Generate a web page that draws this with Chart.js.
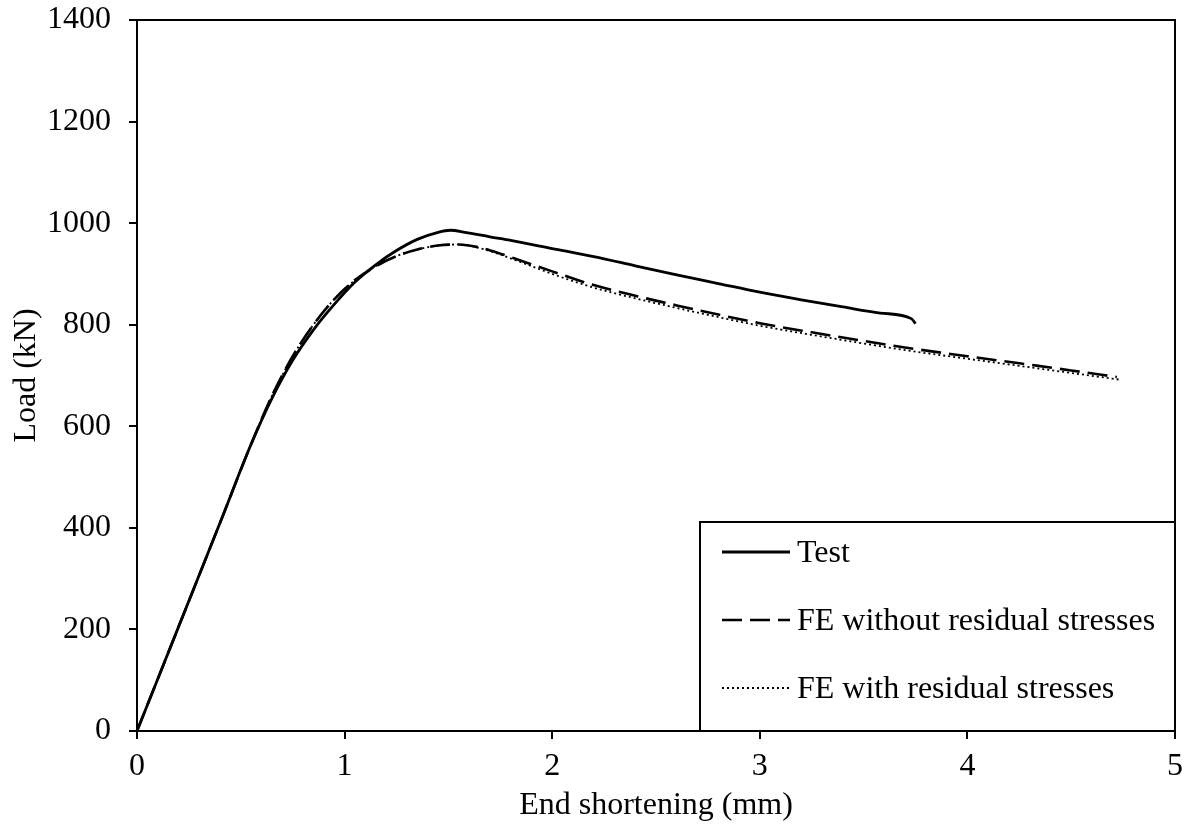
<!DOCTYPE html>
<html>
<head>
<meta charset="utf-8">
<script src="https://cdn.jsdelivr.net/npm/chart.js@4/dist/chart.umd.min.js"></script>
<style>
  html, body { margin: 0; padding: 0; background: #fff; }
  #c { display: block; }
</style>
</head>
<body>
<canvas id="c" width="1192" height="832"></canvas>
<script>
// ---- Data (End shortening in mm, Load in kN) ----
const testX = [0, 0.2, 0.4, 0.55, 0.65, 0.75, 0.85, 0.95, 1.05, 1.15, 1.25, 1.35, 1.45, 1.51, 1.58, 1.7, 1.8, 2.0, 2.2, 2.4, 2.6, 2.8, 3.0, 3.2, 3.4, 3.58, 3.73, 3.75];
const testY = [0, 205, 410, 565, 655, 730, 790, 840, 884, 918, 946, 968, 982, 986, 982, 973, 966, 950, 934, 916, 898, 881, 864, 849, 835, 823, 812, 802];

const feNoRsX = [0, 0.2, 0.4, 0.55, 0.65, 0.75, 0.85, 0.95, 1.05, 1.15, 1.25, 1.35, 1.45, 1.55, 1.65, 1.75, 1.85, 2.0, 2.2, 2.4, 2.6, 2.8, 3.0, 3.25, 3.5, 3.75, 4.0, 4.25, 4.5, 4.72];
const feNoRsY = [0, 205, 410, 565, 660, 738, 800, 850, 888, 915, 935, 948, 956, 958, 952, 940, 926, 905, 878, 857, 838, 820, 803, 785, 768, 752, 738, 724, 710, 697];

const feRsX = [0, 0.2, 0.4, 0.55, 0.65, 0.75, 0.85, 0.95, 1.05, 1.15, 1.25, 1.35, 1.45, 1.55, 1.65, 1.75, 1.85, 2.0, 2.2, 2.4, 2.6, 2.8, 3.0, 3.25, 3.5, 3.75, 4.0, 4.25, 4.5, 4.73];
const feRsY = [0, 205, 410, 565, 660, 738, 800, 850, 888, 915, 935, 948, 956, 958, 951, 938, 923, 900, 873, 852, 833, 815, 798, 780, 763, 747, 733, 719, 705, 692];

const seriesLabels = ['Test', 'FE without residual stresses', 'FE with residual stresses'];
const xTicks = [0, 1, 2, 3, 4, 5];
const yTicks = [0, 200, 400, 600, 800, 1000, 1200, 1400];
const xTitle = 'End shortening (mm)';
const yTitle = 'Load (kN)';

const pts = (xs, ys) => xs.map((x, i) => ({ x: x, y: ys[i] }));

const FONT = '"Liberation Serif", "Times New Roman", serif';

const frameAndLegend = {
  id: 'frameAndLegend',
  afterDatasetsDraw(chart) {
    const ctx = chart.ctx;
    const a = chart.chartArea;
    ctx.save();
    ctx.strokeStyle = '#000';
    ctx.lineWidth = 2;
    ctx.setLineDash([]);
    ctx.strokeRect(a.left, a.top, a.right - a.left, a.bottom - a.top);

    // legend box
    const lx = 700, ly = 522;
    ctx.fillStyle = '#fff';
    ctx.fillRect(lx, ly, a.right - lx, a.bottom - ly);
    ctx.strokeRect(lx, ly, a.right - lx, a.bottom - ly);

    const rows = [552, 620, 688];
    ctx.font = '32px ' + FONT;
    ctx.textBaseline = 'middle';
    ctx.textAlign = 'left';
    chart.data.datasets.forEach((ds, i) => {
      const y = rows[i];
      ctx.beginPath();
      ctx.strokeStyle = '#000';
      ctx.lineWidth = ds.borderWidth;
      ctx.setLineDash(ds.borderDash || []);
      ctx.moveTo(722, y);
      ctx.lineTo(790, y);
      ctx.stroke();
      ctx.setLineDash([]);
      ctx.fillStyle = '#000';
      ctx.fillText(ds.label, 797, y + 2);
    });
    ctx.restore();
  }
};

new Chart(document.getElementById('c'), {
  type: 'scatter',
  data: {
    datasets: [
      { label: seriesLabels[0], data: pts(testX, testY), showLine: true, borderColor: '#000', borderWidth: 2.8, pointRadius: 0, cubicInterpolationMode: 'monotone', fill: false },
      { label: seriesLabels[1], data: pts(feNoRsX, feNoRsY), showLine: true, borderColor: '#000', borderWidth: 2.6, borderDash: [20, 8], pointRadius: 0, cubicInterpolationMode: 'monotone', fill: false },
      { label: seriesLabels[2], data: pts(feRsX, feRsY), showLine: true, borderColor: '#000', borderWidth: 1.8, borderDash: [2, 3], pointRadius: 0, cubicInterpolationMode: 'monotone', fill: false }
    ]
  },
  options: {
    responsive: false,
    animation: false,
    layout: { padding: { left: 0, right: 17, top: 20, bottom: 0 } },
    plugins: { legend: { display: false }, tooltip: { enabled: false } },
    scales: {
      x: {
        type: 'linear', min: 0, max: 5,
        afterBuildTicks: s => { s.ticks = xTicks.map(v => ({ value: v })); },
        afterFit: s => { s.height = 101; s.paddingLeft = 0; s.paddingRight = 0; },
        ticks: { color: '#000', font: { family: FONT, size: 32 }, padding: 8, callback: v => String(v) },
        grid: { display: true, drawOnChartArea: false, drawTicks: true, tickLength: 8, color: '#000', lineWidth: 2 },
        border: { display: true, color: '#000', width: 2 },
        title: { display: true, text: xTitle, color: '#000', font: { family: FONT, size: 32 }, padding: { top: 0, bottom: 7 } }
      },
      y: {
        type: 'linear', min: 0, max: 1400,
        afterBuildTicks: s => { s.ticks = yTicks.map(v => ({ value: v })); },
        afterFit: s => { s.width = 137; s.paddingTop = 0; s.paddingBottom = 0; },
        ticks: { color: '#000', font: { family: FONT, size: 32 }, padding: 18, callback: v => String(v) },
        grid: { display: true, drawOnChartArea: false, drawTicks: true, tickLength: 8, color: '#000', lineWidth: 2 },
        border: { display: true, color: '#000', width: 2 },
        title: { display: true, text: yTitle, color: '#000', font: { family: FONT, size: 32 }, padding: { top: 7, bottom: 0 } }
      }
    }
  },
  plugins: [frameAndLegend]
});
</script>
</body>
</html>
